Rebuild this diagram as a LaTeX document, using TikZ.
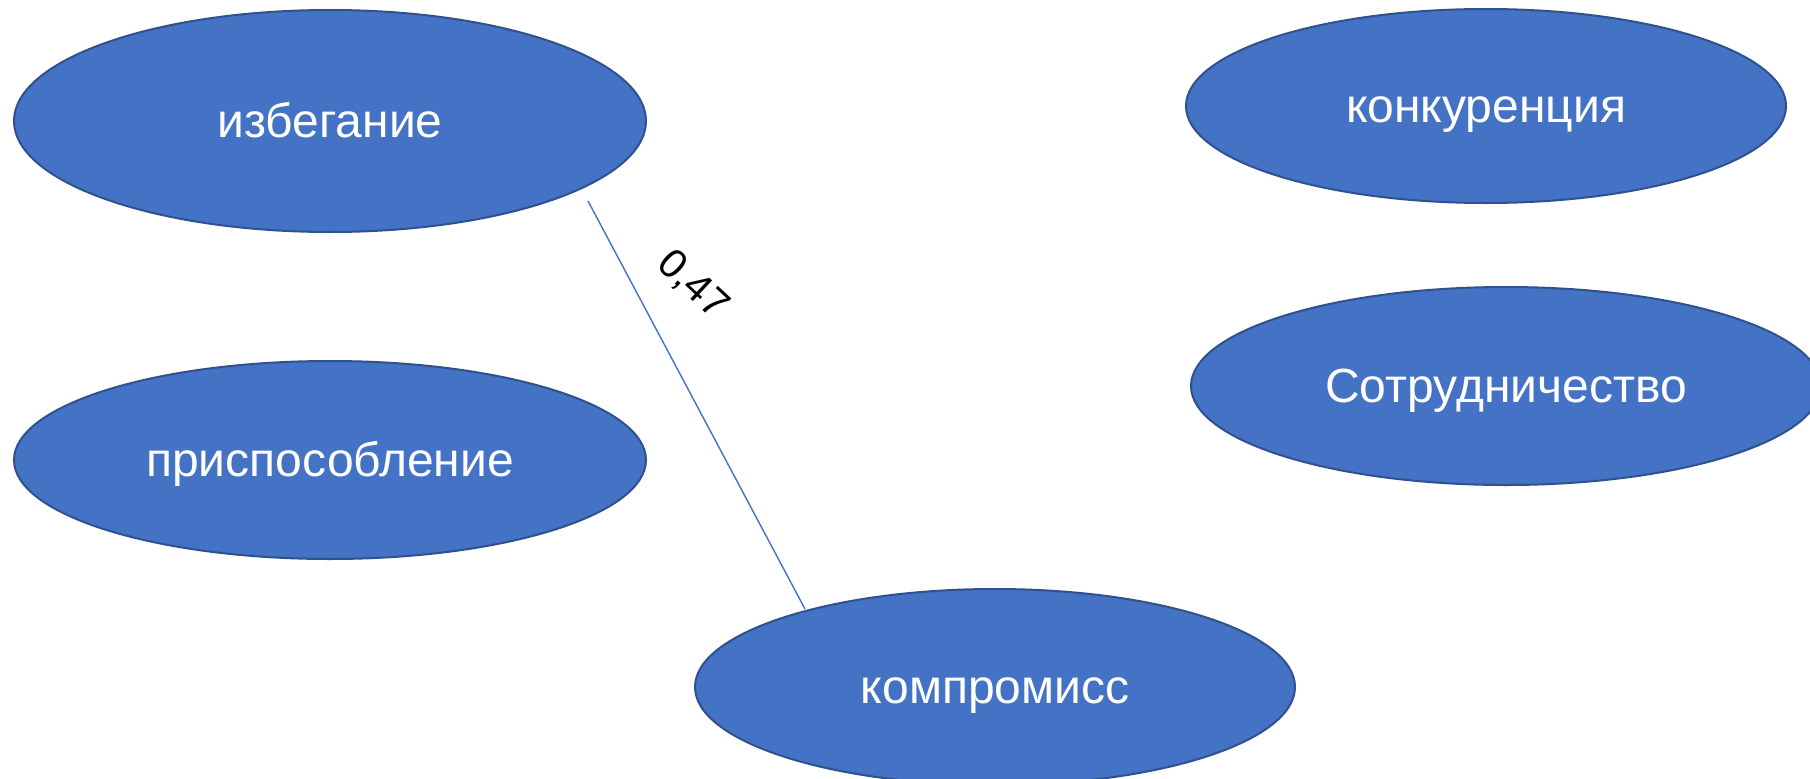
\documentclass[tikz,border=0pt]{standalone}
\usepackage{fontspec}
\setmainfont{Liberation Sans}
\usetikzlibrary{shapes.geometric}
\definecolor{efill}{HTML}{4472C4}
\definecolor{edraw}{HTML}{2F528F}
\tikzset{
  oval/.style={ellipse, fill=efill, draw=edraw, line width=2pt, inner sep=0pt,
    text=white, font=\fontsize{48}{56}\selectfont,
    text height=43pt, text depth=10pt},
  link/.style={draw=efill, line width=1.4pt},
  lbl/.style={font=\fontsize{41}{48}\selectfont, text=black, inner sep=0pt}
}
\begin{document}
\begin{tikzpicture}[x=1pt,y=-1pt]
\path[use as bounding box, clip] (0,0) rectangle (1810,779);
\fill[white] (0,0) rectangle (1810,779);
\node[oval, minimum width=632pt, minimum height=222pt] (izb) at (330,121) {избегание};
\node[oval, minimum width=632pt, minimum height=198pt] (pri) at (330,460) {приспособление};
\node[oval, minimum width=600pt, minimum height=196pt] (kom) at (995,687) {компромисс};
\node[oval, minimum width=600pt, minimum height=194pt] (kon) at (1486,106) {конкуренция};
\node[oval, minimum width=630pt, minimum height=198pt] (sot) at (1506,386) {Сотрудничество};
\coordinate (s) at (588,201);
\coordinate (t) at (805,609);
\draw[link] (s) -- (t);
\node[lbl, rotate=-43] (w) at (693,285) {0,47};
\end{tikzpicture}
\end{document}
